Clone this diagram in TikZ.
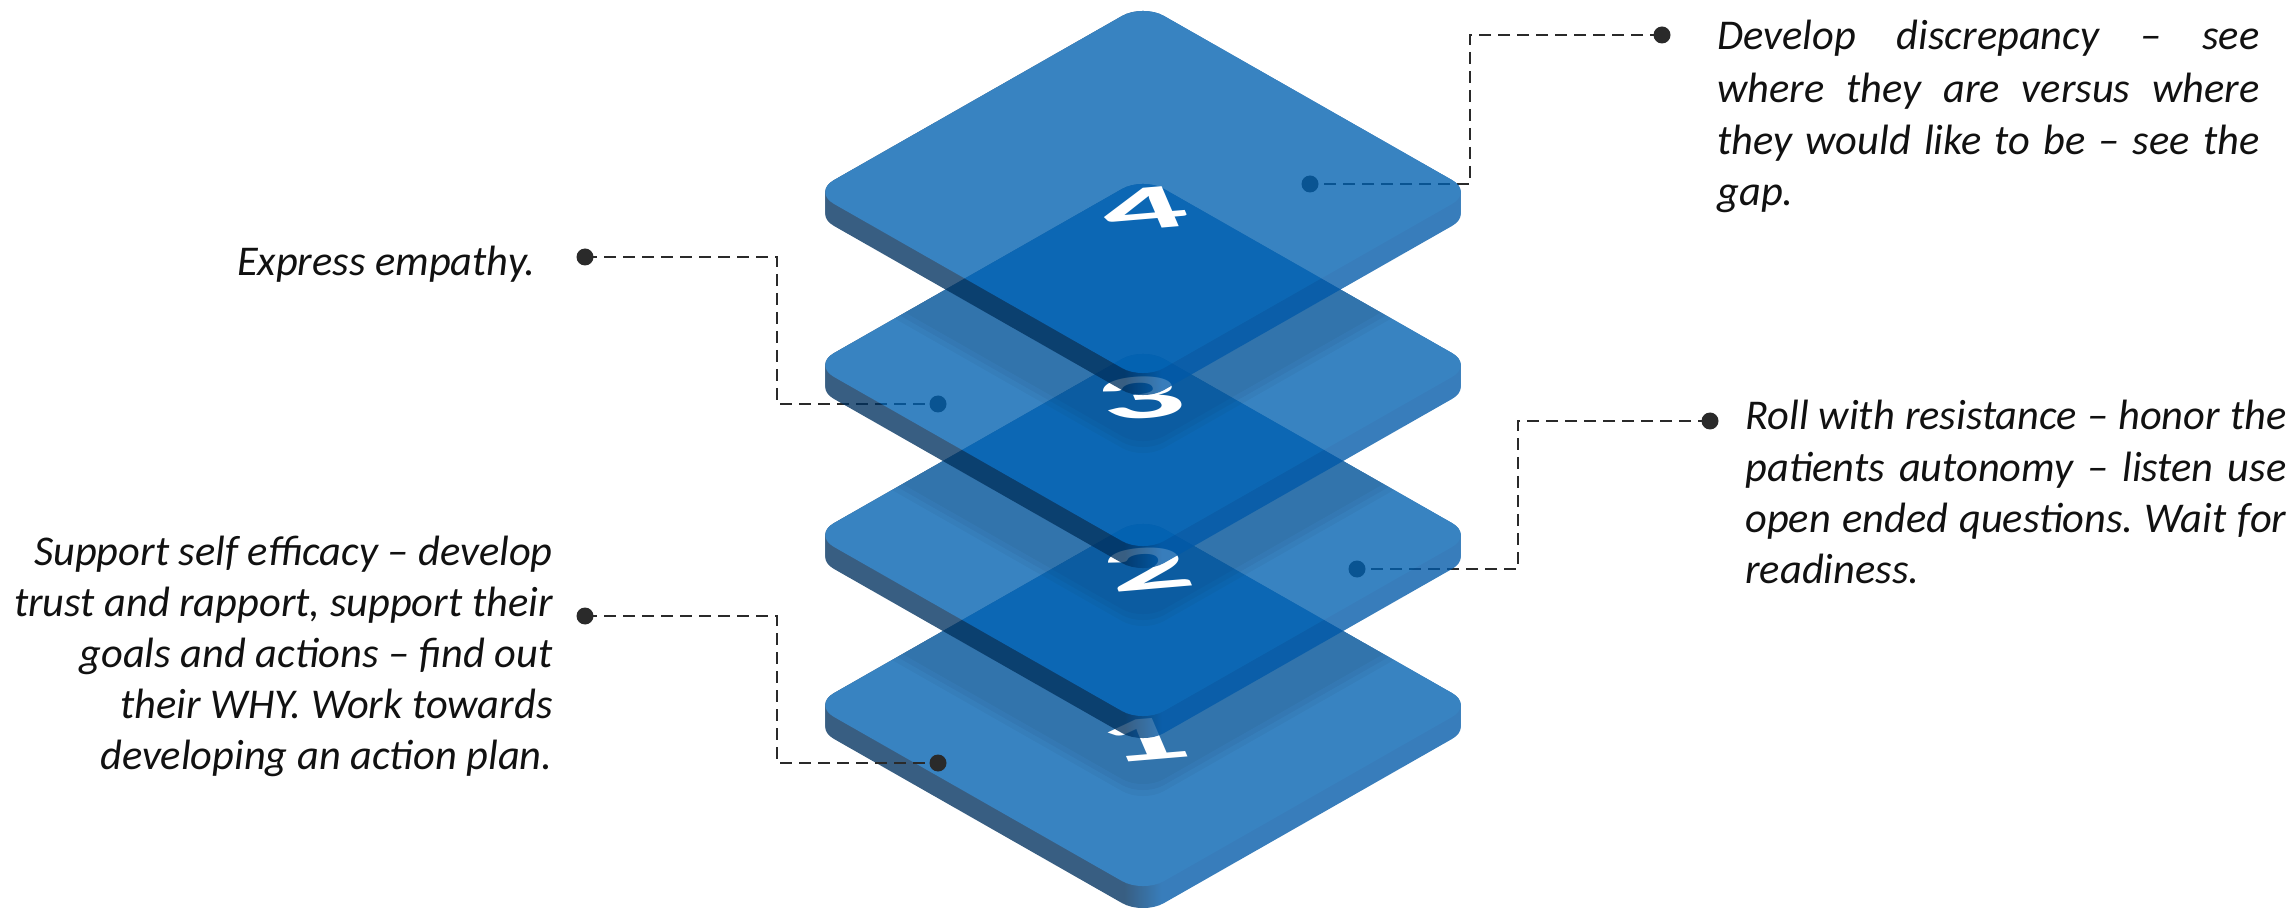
\documentclass[tikz,border=0pt]{standalone}
\usepackage{fontspec}
\newfontfamily\labelfont{Carlito}
\frenchspacing

\definecolor{facec}{HTML}{0060B0}
\definecolor{sideL}{HTML}{00315F}
\definecolor{sideR}{HTML}{0059A8}
\definecolor{linec}{HTML}{2A2A2A}
\definecolor{inkc}{HTML}{111111}

% side band: dark on the left face, lighter on the right face
\pgfdeclarehorizontalshading{plateside}{100bp}{color(0bp)=(sideL); color(25bp)=(sideL); color(48.6bp)=(sideL); color(51.4bp)=(sideR); color(75bp)=(sideR); color(100bp)=(sideR)}

% outline of one plate; #1 = row (px from the top) of its left and right corners
\newcommand{\rhomb}[1]{(978,{-(#1)-94}) -- (813,{-(#1)}) -- (1143,{188-(#1)}) -- (1473,{-(#1)}) -- (1143,{-188-(#1)}) -- cycle}

% a translucent plate with its thickness
\newcommand{\plate}[1]{%
  \begin{scope}[transparency group, opacity=0.78]
    \foreach \s in {22,20,...,0}{\shade[shading=plateside, rounded corners=12pt] \rhomb{#1+\s};}
    \fill[facec, rounded corners=12pt] \rhomb{#1};
  \end{scope}}

% soft shadow cast by the plate at row #2 onto the plate at row #1
\newcommand{\castshadow}[2]{%
  \begin{scope}
    \clip[rounded corners=12pt] \rhomb{#1};
    \foreach \o in {68,74,80}{\fill[black, opacity=0.037, even odd rule, rounded corners=12pt] \rhomb{#2+\o} \rhomb{#2};}
  \end{scope}}

\tikzset{
  lbl/.style={font=\labelfont\itshape\fontsize{21.2pt}{26pt}\selectfont, text=inkc, inner sep=0pt},
  num/.style={font=\labelfont\bfseries\fontsize{44pt}{44pt}\selectfont, text=white, inner sep=0pt, cm={1.9,0.16,-0.3,0.7,(0,0)}},
  conn/.style={draw=linec, line width=1.1pt, dash pattern=on 6pt off 3.5pt},
}

\begin{document}
\begin{tikzpicture}[x=0.5pt, y=0.5pt]
\useasboundingbox (0,0) rectangle (2295,-908);

% connector end points
\coordinate (a4) at (1662,-35);  \coordinate (k4) at (1470,-184); \coordinate (b4) at (1310,-184);
\coordinate (a2) at (1710,-421); \coordinate (k2) at (1518,-569); \coordinate (b2) at (1357,-569);
\coordinate (a3) at (585,-257);  \coordinate (k3) at (777,-404);  \coordinate (b3) at (938,-404);
\coordinate (a1) at (585,-616);  \coordinate (k1) at (777,-763);  \coordinate (b1) at (938,-763);

% connectors that pass underneath the plates
\draw[conn] (a4) -| (k4) -- (b4);
\draw[conn] (a2) -| (k2) -- (b2);
\draw[conn] (a3) -| (k3) -- (b3);
\foreach \p in {a4,b4,a2,b2,a3,b3} \fill[linec] (\p) circle (8.5);

% the stack, bottom to top
\plate{705}
\castshadow{705}{535}
\begin{scope}[shift={(1143,-740)}]\node[num] (n1) at (0,0) {1};\end{scope}
\plate{535}
\castshadow{535}{365}
\begin{scope}[shift={(1147,-569)}]\node[num] (n2) at (0,0) {2};\end{scope}
\plate{365}
\castshadow{365}{192}
\begin{scope}[shift={(1140,-398)}]\node[num] (n3) at (0,0) {3};\end{scope}
\plate{192}
\begin{scope}[shift={(1143,-209)}]\node[num] (n4) at (0,0) {4};\end{scope}

% connector of the lowest plate lies on top
\draw[conn] (a1) -| (k1) -- (b1);
\foreach \p in {a1,b1} \fill[linec] (\p) circle (8.5);

% texts
\node[lbl, anchor=base west] (t4a) at (1717,-50)  {\makebox[271pt][s]{Develop discrepancy – see}};
\node[lbl, anchor=base west] (t4b) at (1717,-103) {\makebox[271pt][s]{where they are versus where}};
\node[lbl, anchor=base west] (t4c) at (1717,-155) {\makebox[271pt][s]{they would like to be – see the}};
\node[lbl, anchor=base west] (t4d) at (1717,-206) {gap.};

\node[lbl, anchor=base west] (t2a) at (1745,-430) {\makebox[270.5pt][s]{Roll with resistance – honor the}};
\node[lbl, anchor=base west] (t2b) at (1745,-481) {\makebox[270.5pt][s]{patients autonomy – listen use}};
\node[lbl, anchor=base west] (t2c) at (1745,-532) {\makebox[270.5pt][s]{open ended questions. Wait for}};
\node[lbl, anchor=base west] (t2d) at (1745,-583) {readiness.};

\node[lbl, anchor=base east] (t3) at (536,-276) {Express empathy.};

\node[lbl, anchor=base east] (t1a) at (553,-565) {Support self efficacy – develop};
\node[lbl, anchor=base east] (t1b) at (553,-616) {trust and rapport, support their};
\node[lbl, anchor=base east] (t1c) at (553,-667) {goals and actions – find out};
\node[lbl, anchor=base east] (t1d) at (553,-718) {their WHY. Work towards};
\node[lbl, anchor=base east] (t1e) at (553,-769) {developing an action plan.};
\end{tikzpicture}
\end{document}
